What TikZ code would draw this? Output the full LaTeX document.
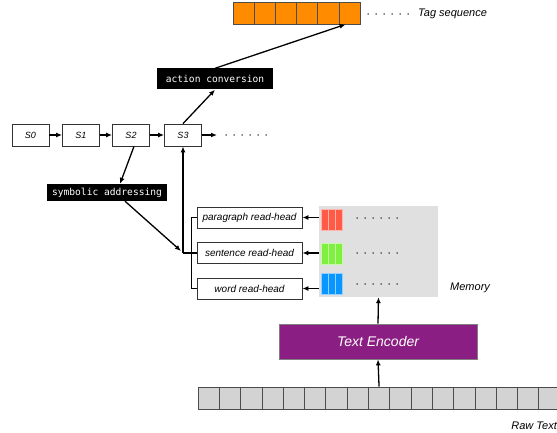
\documentclass[tikz,border=0pt]{standalone}
\usepackage{fontspec}
\setmainfont{Liberation Sans}
\setmonofont{DejaVu Sans Mono}
\usetikzlibrary{arrows.meta}

\definecolor{tagorange}{HTML}{FF8C00}
\definecolor{encpurple}{HTML}{8B1E82}
\definecolor{memgray}{HTML}{E0E0E0}
\definecolor{tokgray}{HTML}{D3D3D3}
\definecolor{headred}{HTML}{FF5A45}
\definecolor{headgreen}{HTML}{7FF03F}
\definecolor{headblue}{HTML}{0A96FF}

\tikzset{
  box/.style={draw=black!80,line width=0.8pt,inner sep=0pt},
  statebox/.style={box,fill=white,minimum width=37pt,minimum height=22pt,font=\fontsize{9}{10}\selectfont\itshape},
  headbox/.style={box,fill=white,minimum width=105pt,minimum height=21pt,font=\fontsize{10}{12}\selectfont\itshape},
  opbox/.style={fill=black,text=white,inner sep=0pt,font=\fontsize{9.6}{11}\selectfont\ttfamily},
  cell/.style={draw=black!70,line width=0.8pt,minimum width=21.2pt,minimum height=22pt,inner sep=0pt},
  arr/.style={line width=1.3pt,-{Latex[length=6pt,width=5pt]}},
  lnk/.style={line width=1.3pt},
  dotrow/.style={line width=1.5pt,line cap=round,dash pattern=on 0pt off 8pt},
  captext/.style={font=\fontsize{11}{13}\selectfont\itshape,inner sep=0pt}
}

\begin{document}
\begin{tikzpicture}[x=1pt,y=-1pt]
 \useasboundingbox (0,0) rectangle (557,433);
 \clip (0,0) rectangle (557,433);

 % tag sequence
 \foreach \i in {1,...,6}
   \node[cell,fill=tagorange] (t\i) at ({233+21.2*(\i-0.5)},13) {};
 \coordinate (tagA) at (368,14);
 \coordinate (tagB) at (410,14);
 \draw[dotrow] (tagA) -- (tagB);
 \node[captext,anchor=west] (tagtxt) at (418,14) {Tag sequence};

 \node[opbox,minimum width=116pt,minimum height=21pt] (ac) at (215,79) {action conversion};

 % states
 \node[statebox] (s0) at (30.5,135) {S0};
 \node[statebox] (s1) at (81,135) {S1};
 \node[statebox] (s2) at (131,135) {S2};
 \node[statebox] (s3) at (183,135) {S3};
 \foreach \a/\b in {s0/s1,s1/s2,s2/s3}
   \draw[arr] (\a) -- (\b);
 \coordinate (sEnd) at (217,135);
 \draw[arr] (s3) -- (sEnd);
 \coordinate (sdA) at (226,135);
 \coordinate (sdB) at (267,135);
 \draw[dotrow] (sdA) -- (sdB);

 \node[opbox,minimum width=120pt,minimum height=17pt] (sa) at (107,192.5) {symbolic addressing};

 \draw[arr] (s3.north) -- (ac.south);
 \draw[arr] (ac.north) -- ([xshift=-4pt]t6.south);
 \draw[arr] ([xshift=3pt]s2.south) -- ([xshift=13pt]sa.north);

 % memory
 \node[fill=memgray,minimum width=119pt,minimum height=91pt,inner sep=0pt] (mem) at (378.5,251.5) {};
 \foreach \c/\y in {headred/209,headgreen/243,headblue/273}
   \foreach \k in {0,1,2}
     \draw[fill=\c,draw=white!55!\c,line width=0.6pt] ({321+7*\k},\y) rectangle +(7,21);
 \foreach \y in {218,253,284}
   \draw[dotrow] (357,\y) -- (399,\y);
 \node[captext,anchor=west] (memtxt) at (450,288) {Memory};

 % read heads
 \node[headbox] (ph) at (249.5,217.5) {paragraph read-head};
 \node[headbox] (sh) at (249.5,253) {sentence read-head};
 \node[headbox] (wh) at (249.5,288.5) {word read-head};
 \foreach \h in {ph,sh,wh}
   \draw[arr] (mem.west |- \h.east) -- (\h.east);
 \draw[lnk] (ph.west) -- ++(-5,0) |- (wh.west);
 \coordinate (jn) at (s3.south |- sh.west);
 \draw[lnk] (sh.west) -- (jn);
 \draw[arr] (jn) -- (s3.south);
 \draw[arr] ([xshift=18pt]sa.south) -- ([shift={(-2,-2)}]jn);

 % encoder and raw text
 \node[fill=encpurple,draw=black!50,line width=0.8pt,minimum width=198pt,minimum height=35pt,text=white,font=\fontsize{14}{16}\selectfont\itshape] (enc) at (378,341.5) {Text Encoder};
 \foreach \i in {1,...,17}
   \node[cell,fill=tokgray,minimum width=21.3pt] (tok\i) at ({198+21.3*(\i-0.5)},398) {};
 \draw[arr] (tok9.north) -- (enc.south);
 \draw[arr] (enc.north) -- (mem.south);
 \node[captext,anchor=east] (rawtxt) at (557,426) {Raw Text};
\end{tikzpicture}
\end{document}
